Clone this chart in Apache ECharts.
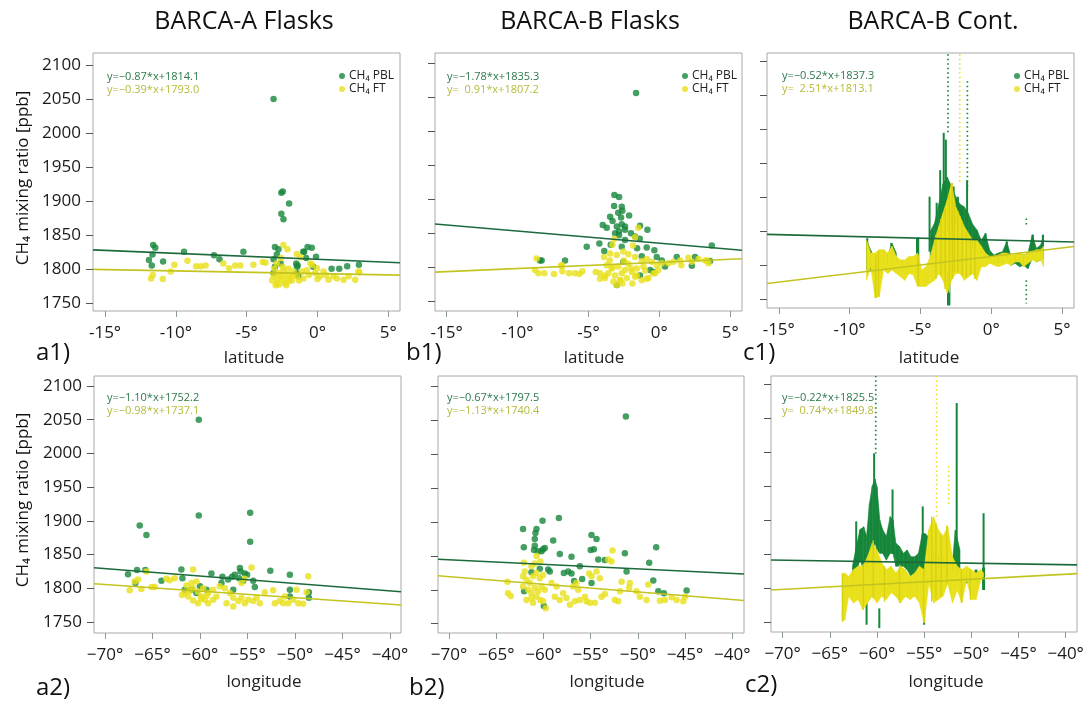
<!DOCTYPE html>
<html><head><meta charset="utf-8">
<script src="https://cdn.jsdelivr.net/npm/echarts@6/dist/echarts.min.js"></script>
<style>html,body{margin:0;padding:0;background:#fff}#c{width:1091px;height:704px}</style>
</head><body><div id="c"></div>
<script>
// ---------- DATA ----------
const panelTitles = ['BARCA-A Flasks', 'BARCA-B Flasks', 'BARCA-B Cont.'];
const panelLabels = ['a1)', 'b1)', 'c1)', 'a2)', 'b2)', 'c2)'];
const seriesNames = ['CH₄ PBL', 'CH₄ FT'];
const yTicks = [1750, 1800, 1850, 1900, 1950, 2000, 2050, 2100];
const latTicks = [-15, -10, -5, 0, 5];
const lonTicks = [-70, -65, -60, -55, -50, -45, -40];

// regression coefficients [slope, intercept] as printed in the panels
const a1PblFit = [-0.87, 1814.1], a1FtFit = [-0.39, 1793.0];
const b1PblFit = [-1.78, 1835.3], b1FtFit = [0.91, 1807.2];
const c1PblFit = [-0.52, 1837.3], c1FtFit = [2.51, 1813.1];
const a2PblFit = [-1.10, 1752.2], a2FtFit = [-0.98, 1737.1];
const b2PblFit = [-0.67, 1797.5], b2FtFit = [-1.13, 1740.4];
const c2PblFit = [-0.22, 1825.5], c2FtFit = [0.74, 1849.8];

// flask samples [latitude or longitude, CH4 ppb]
const a1Pbl = [[-3.1,2050],[-2.55,1912],[-2.45,1914],[-2.0,1896],[-2.55,1881],[-2.4,1873],
 [-11.6,1835],[-11.45,1831],[-11.65,1821],[-11.9,1813],[-11.7,1805],[-10.9,1811],[-9.42,1825],[-7.3,1820],[-6.92,1814],[-5.23,1825],
 [-3.0,1832],[-2.75,1829],[-2.87,1821],[-3.1,1814],[-2.6,1808],[-3.0,1803],[-1.5,1808],[-1.45,1803],[-0.94,1825],[-0.7,1832],[-0.4,1831],
 [-0.8,1816],[-0.1,1818],[-0.3,1803],[-1.45,1794],[1.0,1800],[1.54,1800],[2.1,1804],[2.93,1806],[-3.1,1794],[-1.0,1825],[-1.4,1805],[-1.35,1789]];
const a1Ft = [[-11.63,1791],[-11.75,1786],[-10.92,1785],[-10.36,1796],[-10.1,1806],[-9.18,1812],[-8.57,1804],[-8.24,1804],[-7.9,1805],
 [-6.64,1808],[-6.24,1801],[-5.81,1805],[-5.44,1805],[-4.52,1806],[-3.86,1810],[-3.67,1809],[-2.4,1835],[-2.12,1829],[-1.45,1822],[-1.2,1817],[-0.5,1808],
 [-2.87,1779],[-2.51,1784],[-2.16,1786],[-1.81,1783],[-2.75,1794],[-2.4,1798],[-2.05,1800],[-1.69,1796],[-2.87,1808],[-2.58,1816],[-3.1,1789],
 [-2.28,1779],[-1.93,1791],[-1.45,1789],[-0.99,1786],[-1.1,1796],[-0.75,1798],[-0.39,1806],[-0.16,1794],[0.19,1789],[0.43,1796],[0.78,1784],
 [1.13,1789],[1.37,1786],[1.84,1784],[2.2,1789],[2.67,1784],[2.95,1795],[-0.04,1801],[2.9,1796],
 [-2.95,1776],[-2.7,1777],[-2.6,1790],[-2.3,1792],[-2.0,1782],[-2.8,1786],[-3.05,1800],[-2.45,1803],[-1.75,1790],[-1.3,1783],[-3.2,1783],[-2.2,1776],
 [-0.6,1791],[0.0,1785],[0.6,1791]];
const b1Pbl = [[-1.64,2056],[-3.17,1906],[-2.84,1903],[-3.19,1890],[-2.65,1889],[-2.61,1883],[-3.47,1874],[-2.13,1876],[-2.7,1873],[-3.99,1862],
 [-3.71,1858],[-3.0,1860],[-2.65,1863],[-2.42,1860],[-2.84,1853],[-2.42,1855],[-1.36,1861],[-0.84,1855],[-3.12,1850],[-2.84,1847],[-1.71,1845],
 [-1.38,1842],[-2.42,1840],[-5.12,1830],[-4.23,1835],[-3.43,1833],[-2.65,1830],[-1.57,1828],[-0.89,1829],[-0.35,1825],[-3.88,1824],[-1.24,1816],
 [-0.18,1815],[0.17,1810],[1.23,1815],[2.52,1815],[3.58,1809],[3.7,1832],[2.29,1802],[-6.65,1810],[-8.41,1810],[-0.65,1796],[-0.42,1793],
 [-1.36,1788],[-2.54,1808],[0.4,1801],[-8.3,1810],[-3.0,1774],[-2.0,1850],[-3.3,1868],[-2.9,1880]];
const b1Ft = [[-8.65,1813],[-8.77,1796],[-8.53,1791],[-8.11,1791],[-7.43,1790],[-6.84,1794],[-6.37,1791],[-5.95,1791],[-5.64,1790],[-5.43,1794],
 [-6.93,1802],[-4.49,1793],[-4.18,1783],[-3.82,1788],[-3.17,1842],[-1.71,1844],[-1.48,1858],[-3.31,1833],[-1.85,1832],
 [-3.9,1815],[-3.47,1820],[-3.0,1818],[-2.54,1823],[-2.18,1819],[-1.71,1815],[-1.24,1809],[-0.89,1812],[-0.53,1808],[-0.18,1803],[0.17,1806],
 [-3.71,1803],[-3.36,1798],[-2.89,1801],[-2.42,1796],[-3.12,1788],[-2.65,1791],[-3.6,1791],[-3.83,1784],[-3.24,1779],[-2.77,1781],[-2.3,1784],
 [-1.94,1793],[-1.59,1798],[-1.12,1801],[-1.71,1786],[-1.24,1781],[-0.77,1784],[-0.3,1791],[-4.18,1791],
 [0.64,1806],[0.99,1808],[1.46,1810],[2.05,1814],[2.76,1812],[3.35,1810],[1.55,1803],[2.29,1808],
 [-1.59,1788],[-0.88,1783],[-0.41,1791],[-0.06,1796],[-3.0,1774],[-2.76,1781],[3.24,1810],[3.47,1806],[-6.88,1803],
 [-3.5,1810],[-2.2,1805],[-2.0,1798],[-1.9,1776],[-2.5,1810],[-3.3,1800],[-2.6,1776],[-1.0,1795]];
const a2Pbl = [[-60.13,2050],[-60.13,1908],[-54.72,1912],[-54.72,1869],[-66.35,1893],[-65.64,1879],[-67.58,1821],[-66.63,1827],[-65.75,1827],
 [-66.8,1808],[-64.06,1811],[-61.96,1828],[-61.85,1815],[-58.8,1822],[-57.64,1817],[-57.74,1808],[-57.04,1813],[-56.62,1817],[-56.34,1820],
 [-55.8,1830],[-55.73,1825],[-55.28,1822],[-55.04,1820],[-55.88,1815],[-55.46,1811],[-54.4,1811],[-54.23,1802],[-52.6,1826],[-50.54,1820],
 [-50.54,1798],[-48.54,1794],[-48.54,1786],[-50.54,1788],[-60.0,1803],[-59.32,1798],[-60.37,1793],[-60.9,1798],[-61.6,1798],[-56.5,1798]];
const a2Ft = [[-67.4,1797],[-66.87,1810],[-66.52,1813],[-66.17,1799],[-65.64,1825],[-65.1,1802],[-64.77,1802],[-63.54,1814],[-63.19,1812],
 [-62.66,1815],[-61.43,1804],[-60.9,1808],[-60.73,1828],[-60.37,1810],[-61.6,1793],[-61.25,1788],[-60.73,1782],[-60.2,1778],[-59.85,1788],
 [-59.5,1783],[-59.15,1778],[-58.62,1783],[-58.27,1788],[-60.73,1800],[-60.2,1795],[-59.67,1800],[-59.15,1793],[-58.62,1798],
 [-57.92,1803],[-57.39,1800],[-56.86,1793],[-56.5,1786],[-57.2,1778],[-56.5,1773],[-55.97,1781],[-55.63,1786],[-55.28,1778],[-54.93,1783],
 [-54.4,1781],[-54.05,1786],[-53.7,1778],[-54.58,1831],[-55.63,1808],[-55.28,1814],[-53.18,1794],[-52.3,1797],[-52.12,1778],[-51.6,1781],
 [-51.07,1788],[-50.72,1778],[-50.19,1783],[-49.66,1778],[-49.14,1777],[-48.78,1794],[-48.6,1818],[-49.84,1798],[-51.24,1778],
 [-61.9,1790],[-59.9,1785],[-59.3,1789],[-61.1,1796]];
const b2Pbl = [[-51.27,2056],[-58.37,1906],[-60.1,1902],[-62.16,1890],[-60.74,1890],[-60.85,1884],[-60.92,1875],[-58.97,1873],[-54.91,1881],
 [-54.38,1875],[-62.08,1863],[-60.92,1865],[-61.0,1859],[-60.57,1857],[-60.04,1860],[-59.86,1862],[-60.2,1857],[-58.27,1853],[-57.03,1849],
 [-55.0,1859],[-54.66,1860],[-54.2,1845],[-51.38,1854],[-48.06,1863],[-48.8,1840],[-56.75,1813],[-57.84,1825],[-57.38,1827],[-57.03,1824],
 [-59.5,1830],[-59.33,1827],[-61.27,1826],[-60.39,1831],[-56.15,1835],[-54.91,1810],[-55.9,1816],[-53.5,1844],[-51.2,1827],[-48.37,1814],
 [-47.84,1798],[-47.24,1795],[-44.84,1799],[-59.96,1776],[-62.05,1798]];
const b2Ft = [[-63.82,1812],[-63.75,1795],[-63.46,1791],[-62.08,1840],[-61.98,1827],[-62.16,1820],[-61.8,1815],[-61.45,1810],[-61.1,1820],
 [-60.74,1825],[-60.39,1817],[-60.04,1822],[-62.16,1805],[-61.63,1800],[-61.27,1795],[-60.92,1803],[-60.57,1798],[-60.21,1805],[-59.86,1800],
 [-61.8,1785],[-61.27,1788],[-60.74,1790],[-60.32,1785],[-61.1,1781],[-60.04,1783],[-59.75,1773],[-59.15,1810],[-58.62,1805],[-58.8,1790],
 [-58.27,1785],[-57.92,1795],[-57.56,1788],[-57.2,1778],[-56.68,1783],[-56.32,1800],[-56.15,1785],[-55.6,1790],[-55.44,1783],[-55.09,1781],
 [-54.56,1781],[-60.74,1850],[-60.32,1842],[-52.69,1858],[-53.14,1845],[-52.79,1842],[-61.27,1835],[-60.92,1839],[-55.16,1824],[-54.91,1820],
 [-54.38,1827],[-54.03,1817],[-56.5,1810],[-56.85,1805],[-53.85,1790],[-53.5,1794],[-52.44,1785],[-52.08,1783],[-51.9,1798],[-50.85,1810],
 [-50.92,1803],[-50.14,1798],[-49.79,1790],[-49.08,1785],[-48.9,1808],[-47.67,1784],[-47.14,1785],[-46.43,1789],[-45.9,1785],[-45.19,1783],
 [-45.0,1790],[-51.73,1812]];

// continuous data, read as [position, low ppb, high ppb] envelopes
const c1FtBand = [[-8.8,1778,1837],[-8.5,1798,1818],[-8.2,1752,1818],[-7.9,1754,1823],[-7.6,1793,1823],[-7.3,1788,1818],[-7.0,1793,1828],
 [-6.7,1788,1813],[-6.4,1783,1808],[-6.1,1778,1808],[-5.8,1788,1813],[-5.5,1786,1813],[-5.2,1769,1818],[-4.9,1769,1793],[-4.6,1769,1798],
 [-4.3,1774,1813],[-4.0,1778,1837],[-3.7,1788,1857],[-3.4,1778,1877],[-3.1,1759,1896],[-2.8,1778,1921],[-2.5,1788,1886],[-2.2,1788,1872],
 [-1.9,1778,1857],[-1.6,1783,1847],[-1.3,1788,1837],[-1.0,1778,1837],[-0.7,1798,1828],[-0.4,1798,1818],[-0.1,1803,1813],[0.2,1800,1813],
 [0.5,1798,1815],[0.8,1800,1818],[1.1,1803,1818],[1.4,1800,1815],[1.7,1805,1815],[2.0,1805,1818],[2.3,1798,1815],[2.6,1803,1818],
 [2.9,1808,1820],[3.2,1805,1823],[3.5,1808,1823],[3.7,1798,1828]];
const c1FtStreaks = [[-8.15,1752,1815],[-7.95,1754,1822],[-5.15,1770,1815],[-3.9,1780,1845],[-3.55,1785,1868],[-3.25,1765,1885],[-2.95,1760,1905],
 [-2.75,1780,1921],[-2.6,1790,1895],[-2.35,1790,1880],[-2.05,1785,1865],[-1.75,1782,1850],[-1.45,1786,1842],[-1.15,1780,1838]];
const c1PblBand = [[-8.8,1793,1837],[-8.5,1793,1822],[-8.2,1798,1808],[-7.6,1808,1823],[-7.3,1800,1815],[-7.0,1810,1832],[-6.7,1803,1818],
 [-5.2,1788,1840],[-4.3,1813,1850],[-4.0,1822,1862],[-3.7,1837,1890],[-3.4,1857,1920],[-3.1,1850,1930],[-2.8,1862,1916],[-2.5,1862,1901],
 [-2.2,1852,1890],[-1.9,1837,1886],[-1.6,1832,1876],[-1.3,1822,1860],[-1.0,1820,1852],[-0.7,1818,1837],[-0.4,1813,1847],[-0.1,1808,1822],
 [0.2,1808,1815],[0.5,1805,1818],[0.8,1805,1820],[1.1,1810,1835],[1.4,1800,1813],[1.7,1803,1815],[2.0,1798,1818],[2.3,1800,1815],
 [2.6,1795,1818],[2.9,1810,1845],[3.2,1805,1825],[3.5,1808,1830],[3.7,1810,1845]];
const c1PblSpikes = [[-8.75,1795,1840],[-7.05,1810,1833],[-5.15,1790,1841],[-4.35,1820,1901],[-3.85,1840,1892],[-3.6,1850,1940],[-3.35,1860,1995],
 [-3.2,1860,1985],[-3.05,1741,1790],[-2.95,1741,1785],[-2.65,1860,1916],[-2.35,1850,1901],[-1.7,1830,1925],[-0.4,1815,1847],[1.1,1812,1835],
 [2.95,1815,1845],[3.65,1815,1845]];
const c1PblDots = [[-3.05,1994,2117],[-1.68,1911,2071],[2.48,1859,1869],[2.48,1744,1778]];
const c1FtDots = [[-2.22,1921,2117]];

const c2FtBand = [[-63.7,1751,1820],[-63.4,1753,1822],[-63.0,1788,1817],[-62.5,1778,1827],[-62.0,1783,1832],[-61.5,1768,1832],[-61.0,1778,1846],
 [-60.5,1788,1866],[-60.0,1778,1856],[-59.5,1788,1837],[-59.0,1783,1827],[-58.5,1793,1832],[-58.0,1788,1822],[-57.5,1778,1832],[-57.0,1788,1827],
 [-56.5,1783,1817],[-56.0,1788,1822],[-55.5,1778,1832],[-55.0,1749,1827],[-54.5,1807,1886],[-54.0,1778,1905],[-53.5,1783,1886],[-53.0,1788,1876],
 [-52.5,1807,1890],[-52.0,1778,1846],[-51.5,1797,1832],[-51.0,1778,1827],[-50.5,1812,1832],[-50.0,1783,1827],[-49.5,1783,1822],[-49.0,1812,1827],
 [-48.7,1817,1822]];
const c2FtStreaks = [[-63.65,1751,1822],[-61.45,1768,1835],[-60.4,1785,1870],[-59.2,1780,1832],[-57.6,1778,1834],[-55.05,1749,1828],
 [-54.2,1780,1905],[-53.75,1785,1895],[-53.2,1788,1880],[-52.6,1805,1892],[-51.05,1778,1828],[-50.1,1783,1828]];
const c2PblBand = [[-62.6,1812,1832],[-62.2,1822,1860],[-61.8,1841,1886],[-61.4,1827,1890],[-61.1,1817,1876],[-60.8,1846,1924],[-60.5,1856,1950],
 [-60.2,1866,1960],[-60.0,1856,1949],[-59.7,1851,1900],[-59.4,1851,1886],[-59.0,1841,1876],[-58.6,1851,1905],[-58.3,1851,1900],[-58.0,1832,1866],
 [-57.6,1832,1861],[-57.2,1832,1851],[-56.8,1827,1856],[-56.4,1817,1846],[-56.0,1817,1846],[-55.6,1832,1851],[-55.2,1817,1880],[-54.9,1817,1880],
 [-54.6,1837,1876],[-54.0,1837,1856],[-53.5,1827,1846],[-53.0,1827,1846],[-52.5,1817,1846],[-52.0,1822,1837],[-51.7,1827,1885],[-51.2,1817,1856],
 [-50.5,1807,1827],[-49.5,1807,1827],[-48.7,1797,1830]];
const c2PblSpikes = [[-62.2,1830,1898],[-60.3,1866,1998],[-58.35,1850,1945],[-55.15,1820,1920],[-51.55,1820,2072],[-48.7,1800,1910],
 [-61.1,1746,1780],[-59.75,1741,1770],[-55.0,1746,1770]];
const c2PblDots = [[-60.13,1998,2112]];
const c2FtDots = [[-53.68,1905,2112],[-52.4,1924,1979]];

// ---------- STYLE ----------
const FONT = "'Open Sans', 'Noto Sans', sans-serif";
const PBL = '#16863b', FT = '#e8e01a', FT_STREAK = '#d9d00e';
const PBL_LINE = '#1c6a3b', FT_LINE = '#c3c420';
const EQ_PBL = '#2d784b', EQ_FT = '#b5bb3a';

const panels = [
  {grid:{left:93, top:53, width:307, height:258}, x:[-15.85,5.83], y:[1738,2117.6], xt:latTicks, lab:true, pbl:a1Pbl, ft:a1Ft, fit:[a1PblFit,a1FtFit]},
  {grid:{left:435, top:53, width:307, height:258}, x:[-15.82,5.83], y:[1735.7,2114.7], xt:latTicks, lab:false, pbl:b1Pbl, ft:b1Ft, fit:[b1PblFit,b1FtFit]},
  {grid:{left:767, top:53, width:307, height:255}, x:[-15.83,5.85], y:[1737.2,2112.4], xt:latTicks, lab:false, cont:1, fit:[c1PblFit,c1FtFit]},
  {grid:{left:94, top:376, width:307, height:257}, x:[-71.16,-38.84], y:[1733.7,2114.8], xt:lonTicks, lab:true, pbl:a2Pbl, ft:a2Ft, fit:[a2PblFit,a2FtFit]},
  {grid:{left:438, top:376, width:306, height:257}, x:[-71.17,-38.76], y:[1736.3,2115.8], xt:lonTicks, lab:false, pbl:b2Pbl, ft:b2Ft, fit:[b2PblFit,b2FtFit]},
  {grid:{left:771, top:376, width:306, height:256}, x:[-71.23,-38.8], y:[1735.3,2111.8], xt:lonTicks, lab:false, cont:2, fit:[c2PblFit,c2FtFit]}
];

// envelope between consecutive [x, lo, hi] readings (not joined across gaps)
function envelopeRender(data, gapMax) {
  return function (params, api) {
    const i = params.dataIndex, d = data[i], n = data[i + 1];
    const color = api.visual('color');
    if (n && n[0] - d[0] <= gapMax) {
      const pts = [api.coord([d[0], d[2]]), api.coord([n[0], n[2]]), api.coord([n[0], n[1]]), api.coord([d[0], d[1]])];
      return {type:'polygon', shape:{points:pts}, style:{fill:color, stroke:color, lineWidth:0.6}};
    }
    const prev = data[i - 1];
    if (prev && d[0] - prev[0] <= gapMax) return null;
    const t = api.coord([d[0], d[2]]), b = api.coord([d[0], d[1]]);
    return {type:'rect', shape:{x:t[0]-1.5, y:t[1], width:3, height:b[1]-t[1]}, style:{fill:color}};
  };
}
function lineRender(kind) {
  return function (params, api) {
    const x = api.value(0), lo = api.value(1), hi = api.value(2);
    const t = api.coord([x, hi]), b = api.coord([x, lo]);
    const color = api.visual('color');
    const style = kind === 'dots' ? {stroke:color, lineWidth:1.7, lineDash:[1.5, 3]}
      : kind === 'streak' ? {stroke:color, lineWidth:1.4} : {stroke:color, lineWidth:2};
    return {type:'line', shape:{x1:t[0], y1:t[1], x2:b[0], y2:b[1]}, style};
  };
}

const grids = [], xAxes = [], yAxes = [], series = [];
panels.forEach((p, i) => {
  grids.push(Object.assign({show:true, borderColor:'#a8a8a8', borderWidth:1, containLabel:false}, p.grid));
  const lon = p.xt === lonTicks;
  xAxes.push({gridIndex:i, type:'value', min:p.x[0], max:p.x[1],
    axisLine:{show:false, onZero:false}, splitLine:{show:false},
    axisTick:{show:true, customValues:p.xt, length:6, lineStyle:{color:'#8c9c8c'}},
    axisLabel:{customValues:p.xt, margin:14, fontSize:17, color:'#1a1a1a', fontFamily:FONT,
      formatter: v => (v < 0 ? (lon ? '−' : '-') : '') + Math.abs(v) + '°'}});
  yAxes.push({gridIndex:i, type:'value', min:p.y[0], max:p.y[1],
    axisLine:{show:false, onZero:false}, splitLine:{show:false},
    axisTick:{show:true, customValues:yTicks, length:7, lineStyle:{color:'#555'}},
    axisLabel:{show:p.lab, customValues:yTicks, margin:12, fontSize:17, color:'#1a1a1a', fontFamily:FONT,
      formatter: v => String(v)}});
  const ax = {xAxisIndex:i, yAxisIndex:i};
  if (!p.cont) {
    series.push(Object.assign({type:'scatter', name:seriesNames[0], data:p.pbl, symbolSize:6.5, itemStyle:{color:PBL}, z:2, silent:true}, ax));
    series.push(Object.assign({type:'scatter', name:seriesNames[1], data:p.ft, symbolSize:6.5, itemStyle:{color:FT}, z:3, silent:true}, ax));
  } else {
    const set = p.cont === 1
      ? {pb:c1PblBand, ps:c1PblSpikes, pd:c1PblDots, fb:c1FtBand, fs:c1FtStreaks, fd:c1FtDots, gap:0.45}
      : {pb:c2PblBand, ps:c2PblSpikes, pd:c2PblDots, fb:c2FtBand, fs:c2FtStreaks, fd:c2FtDots, gap:0.65};
    const cs = (name, data, render, color, z) => Object.assign({type:'custom', name, data, renderItem:render,
      encode:{x:0, y:[1,2]}, itemStyle:{color}, clip:true, silent:true, z}, ax);
    series.push(cs(seriesNames[0], set.pb, envelopeRender(set.pb, set.gap), PBL, 2));
    series.push(cs(seriesNames[0], set.ps, lineRender('spike'), PBL, 2));
    series.push(cs(seriesNames[0], set.pd, lineRender('dots'), PBL, 2));
    series.push(cs(seriesNames[1], set.fb, envelopeRender(set.fb, set.gap), FT, 3));
    series.push(cs(seriesNames[1], set.fs, lineRender('streak'), FT_STREAK, 3));
    series.push(cs(seriesNames[1], set.fd, lineRender('dots'), FT, 3));
  }
  [[p.fit[0], PBL_LINE], [p.fit[1], FT_LINE]].forEach(([c, col]) => {
    series.push(Object.assign({type:'line', data:[[p.x[0], c[0]*p.x[0]+c[1]], [p.x[1], c[0]*p.x[1]+c[1]]],
      symbol:'none', lineStyle:{color:col, width:1.6}, z:5, silent:true}, ax));
  });
});

const fmtEq = c => 'y=' + (c[0] < 0 ? '−' + Math.abs(c[0]).toFixed(2) : '  ' + c[0].toFixed(2)) + '*x+' + c[1].toFixed(1);

const graphics = [];
const titleX = [244, 590, 933];
panelTitles.forEach((t, i) => graphics.push({type:'text', x:titleX[i], y:22,
  style:{text:t, fontSize:25, fontFamily:FONT, fill:'#111', align:'center', verticalAlign:'middle'}}));
const labPos = [[36,353],[406,353],[743,353],[36,688],[409,688],[745,685]];
panelLabels.forEach((t, i) => graphics.push({type:'text', x:labPos[i][0], y:labPos[i][1],
  style:{text:t, fontSize:24, fontFamily:FONT, fill:'#111', align:'left', verticalAlign:'middle'}}));
const nameX = [254, 594, 929, 264, 607, 946];
nameX.forEach((x, i) => graphics.push({type:'text', x, y: i < 3 ? 358 : 682,
  style:{text: i < 3 ? 'latitude' : 'longitude', fontSize:17, fontFamily:FONT, fill:'#222', align:'center', verticalAlign:'middle'}}));
[178, 500].forEach(y => graphics.push({type:'text', x:23, y, rotation:Math.PI/2,
  style:{text:'CH₄ mixing ratio [ppb]', fontSize:17, fontFamily:FONT, fill:'#111', align:'center', verticalAlign:'middle'}}));
const eqPos = [[107,77],[447,77],[782,76],[107,398],[447,398],[782,398]];
panels.forEach((p, i) => {
  graphics.push({type:'text', x:eqPos[i][0], y:eqPos[i][1], style:{text:fmtEq(p.fit[0]), fontSize:11, fontFamily:FONT, fill:EQ_PBL, verticalAlign:'middle'}});
  graphics.push({type:'text', x:eqPos[i][0], y:eqPos[i][1]+13, style:{text:fmtEq(p.fit[1]), fontSize:11, fontFamily:FONT, fill:EQ_FT, verticalAlign:'middle'}});
});

const legendLeft = [334, 677, 1009];
const legends = legendLeft.map(l => ({data:seriesNames, left:l, top:65, orient:'vertical', icon:'circle',
  itemWidth:6, itemHeight:6, itemGap:1, selectedMode:false,
  textStyle:{fontSize:12, fontFamily:FONT, color:'#222', padding:[0,0,0,-1]}}));

const chart = echarts.init(document.getElementById('c'), null, {renderer:'canvas'});
chart.setOption({animation:false, backgroundColor:'#fff', grid:grids, xAxis:xAxes, yAxis:yAxes,
  series, legend:legends, graphic:graphics});
</script></body></html>
